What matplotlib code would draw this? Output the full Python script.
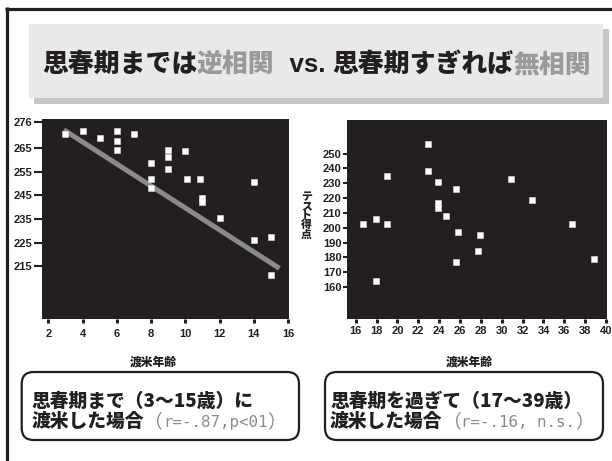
import matplotlib
matplotlib.use("Agg")
import matplotlib.pyplot as plt
from matplotlib.patches import Rectangle, FancyBboxPatch
from matplotlib.offsetbox import TextArea, HPacker, AnnotationBbox

plt.rcParams['font.family'] = ['Liberation Sans', 'Noto Sans CJK JP', 'DejaVu Sans']
JP = ['Noto Sans CJK JP', 'DejaVu Sans']
MIXED = ['Liberation Sans', 'Noto Sans CJK JP', 'DejaVu Sans']
MONO = ['DejaVu Sans Mono', 'Liberation Mono']

DARK = '#231f20'
GRAY_TXT = '#9a9a9a'

# ---- data -------------------------------------------------------------
# arrived in the US by puberty (ages 3-15)
early_age = [3, 4, 5, 6, 6, 6, 7, 8, 8, 8, 9, 9, 9, 10, 10.1, 10.85, 11, 11, 12, 14, 14, 15, 15]
early_score = [271, 272, 269, 272, 268, 264, 271, 258.5, 252, 248, 264, 261.3, 256,
               263.7, 252, 252, 244, 242, 235.5, 250.5, 226, 227.4, 211.2]
early_fit_age = [2.9, 15.5]
early_fit_score = [272.6, 214.1]

# arrived after puberty (ages 17-39)
late_age = [16.7, 17.9, 19.0, 19.0, 17.9, 22.9, 22.9, 23.9, 23.9, 23.9, 24.7, 25.6,
            25.8, 25.6, 27.9, 27.7, 30.9, 32.9, 36.7, 38.8]
late_score = [202.3, 205.9, 202.3, 234.7, 164.2, 256.5, 238.5, 231, 216.5, 213.1, 207.7,
              225.9, 196.9, 176.9, 195.1, 184.3, 232.9, 218.5, 202.3, 178.9]

early_xticks = [2, 4, 6, 8, 10, 12, 14, 16]
early_yticks = [215, 225, 235, 245, 255, 265, 276]
late_xticks = list(range(16, 41, 2))
late_yticks = list(range(160, 251, 10))

title_parts = [("思春期までは", DARK, JP), ("逆相関", GRAY_TXT, JP), ("  vs. ", DARK, MIXED),
               ("思春期すぎれば", DARK, JP), ("無相関", GRAY_TXT, JP)]
xlabel = "渡米年齢"
ylabel = "テスト得点"
NOTE_GRAY = '#8c8c8c'
left_note = [[("思春期まで（3～15歳）に", DARK, 'heavy', JP, 13.5)],
             [("渡米した場合", DARK, 'heavy', JP, 13.5),
              ("（", NOTE_GRAY, 'normal', JP, 13.5),
              ("r=-.87,p<01", NOTE_GRAY, 'normal', MONO, 11.4),
              ("）", NOTE_GRAY, 'normal', JP, 13.5)]]
right_note = [[("思春期を過ぎて（17～39歳）", DARK, 'heavy', JP, 13.5)],
              [("渡米した場合", DARK, 'heavy', JP, 13.5),
               ("（", NOTE_GRAY, 'normal', JP, 13.5),
               ("r=-.16, n.s.", NOTE_GRAY, 'normal', MONO, 11.4),
               ("）", NOTE_GRAY, 'normal', JP, 13.5)]]

# ---- figure -----------------------------------------------------------
W, H = 612, 461
fig = plt.figure(figsize=(W / 100, H / 100), dpi=100)
fig.patch.set_facecolor('white')


def px_rect(l, t, r, b):
    return [l / W, 1 - b / H, (r - l) / W, (b - t) / H]


# overlay in pixel coordinates for frame, title and notes
ov = fig.add_axes([0, 0, 1, 1], zorder=-1)
ov.set_xlim(0, W)
ov.set_ylim(H, 0)
ov.axis('off')

# frame lines
ov.plot([5, W], [9, 9], color=DARK, lw=2.3, solid_capstyle='butt')
ov.plot([6.5, 6.5], [7.5, H], color=DARK, lw=2.3, solid_capstyle='butt')

# title box with shadow
ov.add_patch(Rectangle((34, 29), 575, 75, fc='#c6c6c6', ec='none'))
ov.add_patch(Rectangle((29, 24), 574, 74, fc='#e9e9eb', ec='none'))
title_box = HPacker(children=[TextArea(t, textprops=dict(color=c, fontsize=18.6,
                                                          fontweight='heavy', family=f))
                              for t, c, f in title_parts],
                    align='baseline', pad=0, sep=0)
ov.add_artist(AnnotationBbox(title_box, (316.5, 64), xycoords='data', frameon=False,
                             box_alignment=(0.5, 0.5), pad=0))


def note(lines, x, y0, dy):
    for i, parts in enumerate(lines):
        pk = HPacker(children=[TextArea(t, textprops=dict(color=c, fontsize=s, fontweight=w,
                                                          family=f))
                               for t, c, w, f, s in parts],
                     align='baseline', pad=0, sep=0)
        ov.add_artist(AnnotationBbox(pk, (x, y0 + i * dy), xycoords='data', frameon=False,
                                     box_alignment=(0, 0.5), pad=0))


# note boxes
for l, r in [(21.7, 299), (325, 603)]:
    ov.add_patch(FancyBboxPatch((l, 372), r - l, 68,
                                boxstyle='round,pad=0,rounding_size=12',
                                fc='white', ec=DARK, lw=1.6))
note(left_note, 31.5, 401.5, 20)
note(right_note, 330, 401.5, 20)

# axis labels
ov.text(153, 361.5, xlabel, ha='center', va='center', fontsize=8.5, fontweight='heavy',
        family=JP, color=DARK)
ov.text(469, 361.5, xlabel, ha='center', va='center', fontsize=8.5, fontweight='heavy',
        family=JP, color=DARK)
ov.text(306.5, 216, "\n".join(ylabel), ha='center', va='center', fontsize=7.8,
        fontweight='heavy', family=JP, color=DARK, linespacing=0.92)


def style(ax, xlim, ylim, xticks, yticks, ylen):
    ax.set_facecolor(DARK)
    for s in ax.spines.values():
        s.set_visible(False)
    ax.set_xlim(*xlim)
    ax.set_ylim(*ylim)
    ax.set_xticks(xticks)
    ax.set_yticks(yticks)
    ax.tick_params(axis='x', direction='out', length=3, width=2.2, pad=4.5,
                   labelsize=8, color=DARK, labelcolor=DARK)
    ax.tick_params(axis='y', direction='out', length=ylen, width=1.5, pad=1,
                   labelsize=8, color=DARK, labelcolor=DARK)
    for lab in ax.get_xticklabels() + ax.get_yticklabels():
        lab.set_fontweight('bold')


# left scatter: arrived by puberty
ax1 = fig.add_axes(px_rect(41.7, 119, 289, 319))
style(ax1, (1.61, 16.06), (192.7, 277.2), early_xticks, early_yticks, 5.8)
ax1.plot(early_fit_age, early_fit_score, color='#8a8a8a', lw=3.6,
         solid_capstyle='butt', zorder=2)
ax1.plot(early_age, early_score, 's', color='white', ms=3.8, mec='#e0e0e0', mew=0.4,
         zorder=3)

# right scatter: arrived after puberty
ax2 = fig.add_axes(px_rect(347.3, 120, 606.7, 319.3))
style(ax2, (15.19, 40.06), (138.2, 272.7), late_xticks, late_yticks, 3)
ax2.tick_params(axis='x', pad=1.5)
ax2.plot(late_age, late_score, 's', color='white', ms=3.8, mec='#e0e0e0', mew=0.4,
         zorder=3)

fig.savefig('out.png', dpi=100, facecolor='white')
